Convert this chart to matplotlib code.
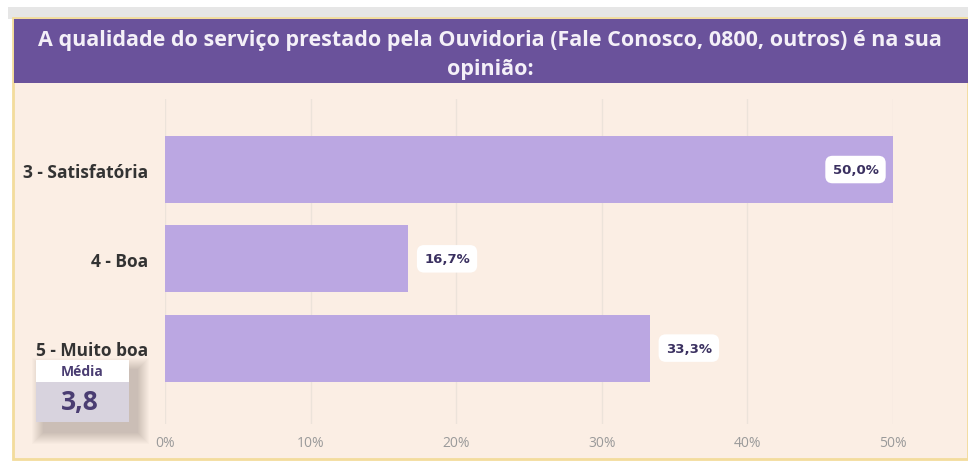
import matplotlib.pyplot as plt
from matplotlib.patches import Rectangle

categorias = ["3 - Satisfatória", "4 - Boa", "5 - Muito boa"]
percentuais = [50.0, 16.7, 33.3]
rotulos = ["50,0%", "16,7%", "33,3%"]
ticks = [0, 10, 20, 30, 40, 50]
media = "3,8"
titulo = "A qualidade do serviço prestado pela Ouvidoria (Fale Conosco, 0800, outros) é na sua\nopinião:"

W, H = 968, 464
fig = plt.figure(figsize=(W / 100, H / 100), dpi=100)
fig.patch.set_facecolor("white")

def fx(px):
    return px / W

def fy(py):
    return 1 - py / H

# shadow strip at top, panel and header
fig.patches.append(Rectangle((fx(8), fy(20)), fx(960), 12 / H, transform=fig.transFigure,
                             facecolor="#e6e6e6", edgecolor="none", zorder=0))
fig.patches.append(Rectangle((fx(13), fy(460)), fx(955), 441 / H, transform=fig.transFigure,
                             facecolor="#fbeee4", edgecolor="#f3dc9c", linewidth=2, zorder=0.5))
fig.patches.append(Rectangle((fx(14), fy(84)), fx(954), 64 / H, transform=fig.transFigure,
                             facecolor="#6a529b", edgecolor="none", zorder=0.6))
fig.text(fx(490), fy(55), titulo, ha="center", va="center", color="#f4f0f8",
         fontsize=15.5, fontweight="bold", family="Open Sans", linespacing=1.45, zorder=3)

ax = fig.add_axes([fx(165), fy(425), fx(893 - 165), 325 / H])
ax.set_zorder(2)
ax.set_facecolor("none")
pos = list(range(len(categorias)))
ax.barh(pos, percentuais, height=0.75, color="#bba7e2", zorder=2)
ax.set_ylim(2.85, -0.79)
ax.set_xlim(0, 50)
ax.set_xticks(ticks)
ax.set_xticklabels([f"{t}%" for t in ticks], color="#9a9a9a", fontsize=10, family="Open Sans")
ax.set_yticks(pos)
ax.set_yticklabels(categorias, fontsize=12.5, fontweight="bold", color="#333333", family="Open Sans")
ax.tick_params(length=0, pad=12)
ax.tick_params(axis="x", pad=8)
ax.grid(axis="x", color="#ece3da", linewidth=1, zorder=0)
for s in ax.spines.values():
    s.set_visible(False)

for p, v, r in zip(pos, percentuais, rotulos):
    box = dict(boxstyle="round,pad=0.55,rounding_size=0.55", facecolor="white", edgecolor="none")
    if v > 45:
        ax.text(v - 1.0, p, r, ha="right", va="center", fontsize=9.5, fontweight="bold",
                color="#3a3060", bbox=box, zorder=4)
    else:
        ax.text(v + 1.1, p, r, ha="left", va="center", fontsize=9.5, fontweight="bold",
                color="#3a3060", bbox=box, zorder=4)

# Média card with soft shadow
for d in range(12, 0, -1):
    fig.patches.append(Rectangle((fx(36 + 8 - d), fy(423 + 10 + d)), fx(93 + 2 * d), (62 + 2 * d) / H,
                                 transform=fig.transFigure, facecolor="black", alpha=0.016,
                                 edgecolor="none", zorder=5))
fig.patches.append(Rectangle((fx(36), fy(383)), fx(93), 22 / H, transform=fig.transFigure,
                             facecolor="white", edgecolor="none", zorder=6))
fig.patches.append(Rectangle((fx(36), fy(423)), fx(93), 40 / H, transform=fig.transFigure,
                             facecolor="#d8d3de", edgecolor="none", zorder=6))
fig.text(fx(82), fy(372), "Média", ha="center", va="center", fontsize=10, fontweight="bold",
         color="#4a3d72", family="Open Sans", zorder=7)
fig.text(fx(80), fy(403), media, ha="center", va="center", fontsize=19, fontweight="bold",
         color="#4a3d72", family="Open Sans", zorder=7)

fig.savefig("out.png", dpi=100, facecolor="white")
